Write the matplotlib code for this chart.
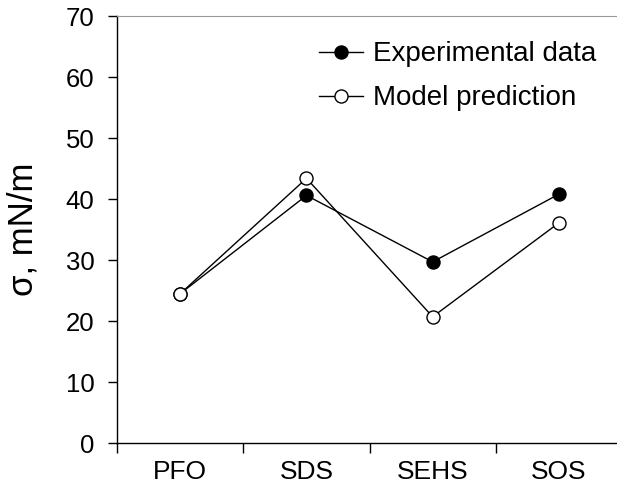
import matplotlib
matplotlib.use("Agg")
import matplotlib.pyplot as plt
import numpy as np

# data
categories = ["PFO", "SDS", "SEHS", "SOS"]
experimental = [24.5, 40.6, 29.7, 40.8]
model = [24.5, 43.4, 20.7, 36.1]

plt.rcParams['font.family'] = ['Liberation Sans', 'DejaVu Sans']

fig = plt.figure(figsize=(6.17, 5.04), dpi=100)
ax = fig.add_axes([0.19, 0.121, 0.818, 0.847])

x = np.arange(len(categories))
ax.plot(x, experimental, '-o', color='black', lw=1.0, ms=9.4,
        mfc='black', mec='black', mew=1.0, label='Experimental data')
ax.plot(x, model, '-o', color='black', lw=1.0, ms=9.4,
        mfc='white', mec='black', mew=1.0, label='Model prediction')

ax.set_xlim(-0.5, len(categories) - 0.5)
ax.set_ylim(0, 70)
ax.set_yticks(np.arange(0, 71, 10))

# category labels centred, tick marks between categories
ax.set_xticks(x)
ax.set_xticklabels(categories)
ax.set_xticks(np.arange(-0.5, len(categories), 1.0), minor=True)
ax.tick_params(axis='x', which='major', length=0, pad=12, labelsize=19)
ax.tick_params(axis='x', which='minor', length=7, width=1, direction='out')
ax.tick_params(axis='y', length=6.5, width=1, direction='out', pad=10, labelsize=18.5)

ax.spines['right'].set_visible(False)
ax.spines['top'].set_color('0.6')
for s in ['left', 'bottom']:
    ax.spines[s].set_linewidth(1.0)

ax.set_ylabel("σ, mN/m", fontsize=25)
ax.yaxis.set_label_coords(-0.155, 0.5)

ax.legend(loc='upper left', bbox_to_anchor=(0.517, 0.918),
          bbox_transform=fig.transFigure, frameon=False, fontsize=20,
          handlelength=1.6, handletextpad=0.36, labelspacing=0.65,
          borderpad=0, borderaxespad=0)

plt.savefig("out.png", dpi=100)
